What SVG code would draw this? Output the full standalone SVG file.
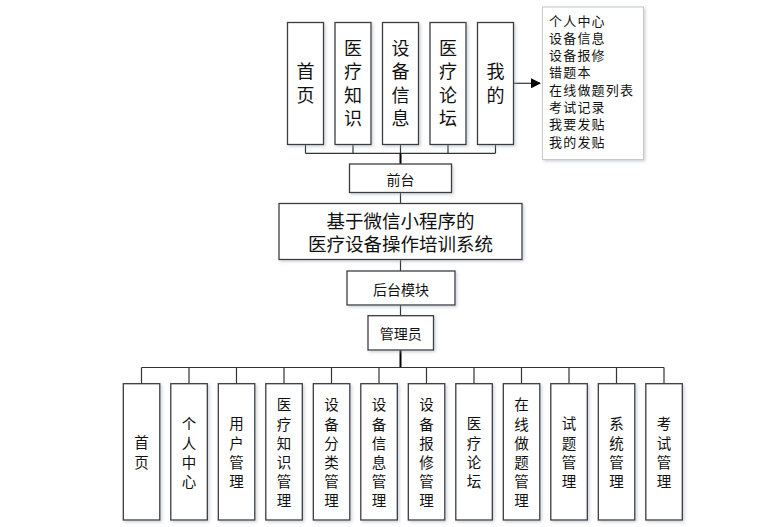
<svg xmlns="http://www.w3.org/2000/svg" width="778" height="527" viewBox="0 0 778 527">
<defs>
<filter id="sh" x="-20%" y="-20%" width="140%" height="140%">
<feDropShadow dx="1.5" dy="1.5" stdDeviation="1.5" flood-color="#9aa6b8" flood-opacity="0.5"/>
</filter>
<marker id="arr" markerWidth="10" markerHeight="10" refX="9" refY="5" orient="auto" markerUnits="userSpaceOnUse">
<path d="M0,0 L10,5 L0,10 Z" fill="#000"/>
</marker>
<style>
.box{fill:#fff;stroke:#3c3c3c;stroke-width:1.3;filter:url(#sh)}
.lbox{fill:#fff;stroke:#c8c8c8;stroke-width:1;filter:url(#sh)}
text{font-family:"Noto Sans CJK SC","Noto Sans",sans-serif;fill:#111;dominant-baseline:central}
.big{font-size:18px;text-anchor:middle}
.sm{font-size:14.5px;text-anchor:middle}
.mid{font-size:14px;text-anchor:middle}
.ttl{font-size:18.5px;text-anchor:middle}
.lst{font-size:13px;letter-spacing:1.2px;dominant-baseline:auto}
.ln{stroke:#333;stroke-width:1.2;fill:none}
.tk{stroke:#000;stroke-width:2;fill:none}
</style>
</defs>

<g id="connectors">
<path class="ln" d="M305.5,144.5V153.3M353,144.5V153.3M400.5,144.5V153.3M448,144.5V153.3M495.5,144.5V153.3M305.5,153.3H495.5"/>
<path class="tk" d="M400.5,153.3V164"/>
<path class="ln" d="M400.5,192.5V203.5M400.5,259.5V271M400.5,305V315.7"/>
<path class="tk" d="M400.5,350V367.5"/>
<path class="ln" d="M141.5,367.5H664"/>
<path class="ln" d="M141.5,367.5V383.7M189,367.5V383.7M236.5,367.5V383.7M284,367.5V383.7M331.5,367.5V383.7M379,367.5V383.7M426.5,367.5V383.7M474,367.5V383.7M521.5,367.5V383.7M569,367.5V383.7M616.5,367.5V383.7M664,367.5V383.7"/>
<path class="ln" d="M513.5,83.3H540" marker-end="url(#arr)"/>
</g>

<g id="top1"><rect class="box" x="287.5" y="22.5" width="36" height="122"/>
<text class="big" x="305.5" y="70.3">首<tspan x="305.5" dy="23.4">页</tspan></text></g>
<g id="top2"><rect class="box" x="335" y="22.5" width="36" height="122"/>
<text class="big" x="353" y="47">医<tspan x="353" dy="23.3">疗</tspan><tspan x="353" dy="23.3">知</tspan><tspan x="353" dy="23.3">识</tspan></text></g>
<g id="top3"><rect class="box" x="382.5" y="22.5" width="36" height="122"/>
<text class="big" x="400.5" y="47">设<tspan x="400.5" dy="23.3">备</tspan><tspan x="400.5" dy="23.3">信</tspan><tspan x="400.5" dy="23.3">息</tspan></text></g>
<g id="top4"><rect class="box" x="430" y="22.5" width="36" height="122"/>
<text class="big" x="448" y="47">医<tspan x="448" dy="23.3">疗</tspan><tspan x="448" dy="23.3">论</tspan><tspan x="448" dy="23.3">坛</tspan></text></g>
<g id="top5"><rect class="box" x="477.5" y="22.5" width="36" height="122"/>
<text class="big" x="495.5" y="70.3">我<tspan x="495.5" dy="23.4">的</tspan></text></g>

<g id="mylist"><rect class="lbox" x="542.5" y="7" width="101" height="152.5"/>
<text class="lst" x="549" y="25.5">个人中心<tspan x="549" dy="17.3">设备信息</tspan><tspan x="549" dy="17.3">设备报修</tspan><tspan x="549" dy="17.3">错题本</tspan><tspan x="549" dy="17.3">在线做题列表</tspan><tspan x="549" dy="17.3">考试记录</tspan><tspan x="549" dy="17.3">我要发贴</tspan><tspan x="549" dy="17.3">我的发贴</tspan></text></g>

<g id="qiantai"><rect class="box" x="349.5" y="164" width="102" height="28.5"/>
<text class="mid" x="400.5" y="178.5">前台</text></g>

<g id="system"><rect class="box" x="279" y="203.5" width="243" height="56"/>
<text class="ttl" x="400.5" y="219.5">基于微信小程序的<tspan x="400.5" dy="23">医疗设备操作培训系统</tspan></text></g>

<g id="houtai"><rect class="box" x="347" y="271" width="108" height="34"/>
<text class="mid" x="401" y="288.5">后台模块</text></g>

<g id="admin"><rect class="box" x="368" y="315.7" width="65.5" height="34.3"/>
<text class="mid" x="400.7" y="333.2">管理员</text></g>

<g id="b1"><rect class="box" x="123.3" y="383.7" width="36.5" height="136.3"/>
<text class="sm" x="141.5" y="441.5">首<tspan x="141.5" dy="19">页</tspan></text></g>
<g id="b2"><rect class="box" x="170.8" y="383.7" width="36.5" height="136.3"/>
<text class="sm" x="189" y="422.5">个<tspan x="189" dy="19">人</tspan><tspan x="189" dy="19">中</tspan><tspan x="189" dy="19">心</tspan></text></g>
<g id="b3"><rect class="box" x="218.3" y="383.7" width="36.5" height="136.3"/>
<text class="sm" x="236.5" y="422.5">用<tspan x="236.5" dy="19">户</tspan><tspan x="236.5" dy="19">管</tspan><tspan x="236.5" dy="19">理</tspan></text></g>
<g id="b4"><rect class="box" x="265.8" y="383.7" width="36.5" height="136.3"/>
<text class="sm" x="284" y="403.5">医<tspan x="284" dy="19">疗</tspan><tspan x="284" dy="19">知</tspan><tspan x="284" dy="19">识</tspan><tspan x="284" dy="19">管</tspan><tspan x="284" dy="19">理</tspan></text></g>
<g id="b5"><rect class="box" x="313.3" y="383.7" width="36.5" height="136.3"/>
<text class="sm" x="331.5" y="403.5">设<tspan x="331.5" dy="19">备</tspan><tspan x="331.5" dy="19">分</tspan><tspan x="331.5" dy="19">类</tspan><tspan x="331.5" dy="19">管</tspan><tspan x="331.5" dy="19">理</tspan></text></g>
<g id="b6"><rect class="box" x="360.8" y="383.7" width="36.5" height="136.3"/>
<text class="sm" x="379" y="403.5">设<tspan x="379" dy="19">备</tspan><tspan x="379" dy="19">信</tspan><tspan x="379" dy="19">息</tspan><tspan x="379" dy="19">管</tspan><tspan x="379" dy="19">理</tspan></text></g>
<g id="b7"><rect class="box" x="408.3" y="383.7" width="36.5" height="136.3"/>
<text class="sm" x="426.5" y="403.5">设<tspan x="426.5" dy="19">备</tspan><tspan x="426.5" dy="19">报</tspan><tspan x="426.5" dy="19">修</tspan><tspan x="426.5" dy="19">管</tspan><tspan x="426.5" dy="19">理</tspan></text></g>
<g id="b8"><rect class="box" x="455.8" y="383.7" width="36.5" height="136.3"/>
<text class="sm" x="474" y="422.5">医<tspan x="474" dy="19">疗</tspan><tspan x="474" dy="19">论</tspan><tspan x="474" dy="19">坛</tspan></text></g>
<g id="b9"><rect class="box" x="503.3" y="383.7" width="36.5" height="136.3"/>
<text class="sm" x="521.5" y="403.5">在<tspan x="521.5" dy="19">线</tspan><tspan x="521.5" dy="19">做</tspan><tspan x="521.5" dy="19">题</tspan><tspan x="521.5" dy="19">管</tspan><tspan x="521.5" dy="19">理</tspan></text></g>
<g id="b10"><rect class="box" x="550.8" y="383.7" width="36.5" height="136.3"/>
<text class="sm" x="569" y="422.5">试<tspan x="569" dy="19">题</tspan><tspan x="569" dy="19">管</tspan><tspan x="569" dy="19">理</tspan></text></g>
<g id="b11"><rect class="box" x="598.3" y="383.7" width="36.5" height="136.3"/>
<text class="sm" x="616.5" y="422.5">系<tspan x="616.5" dy="19">统</tspan><tspan x="616.5" dy="19">管</tspan><tspan x="616.5" dy="19">理</tspan></text></g>
<g id="b12"><rect class="box" x="645.8" y="383.7" width="36.5" height="136.3"/>
<text class="sm" x="664" y="422.5">考<tspan x="664" dy="19">试</tspan><tspan x="664" dy="19">管</tspan><tspan x="664" dy="19">理</tspan></text></g>
</svg>
